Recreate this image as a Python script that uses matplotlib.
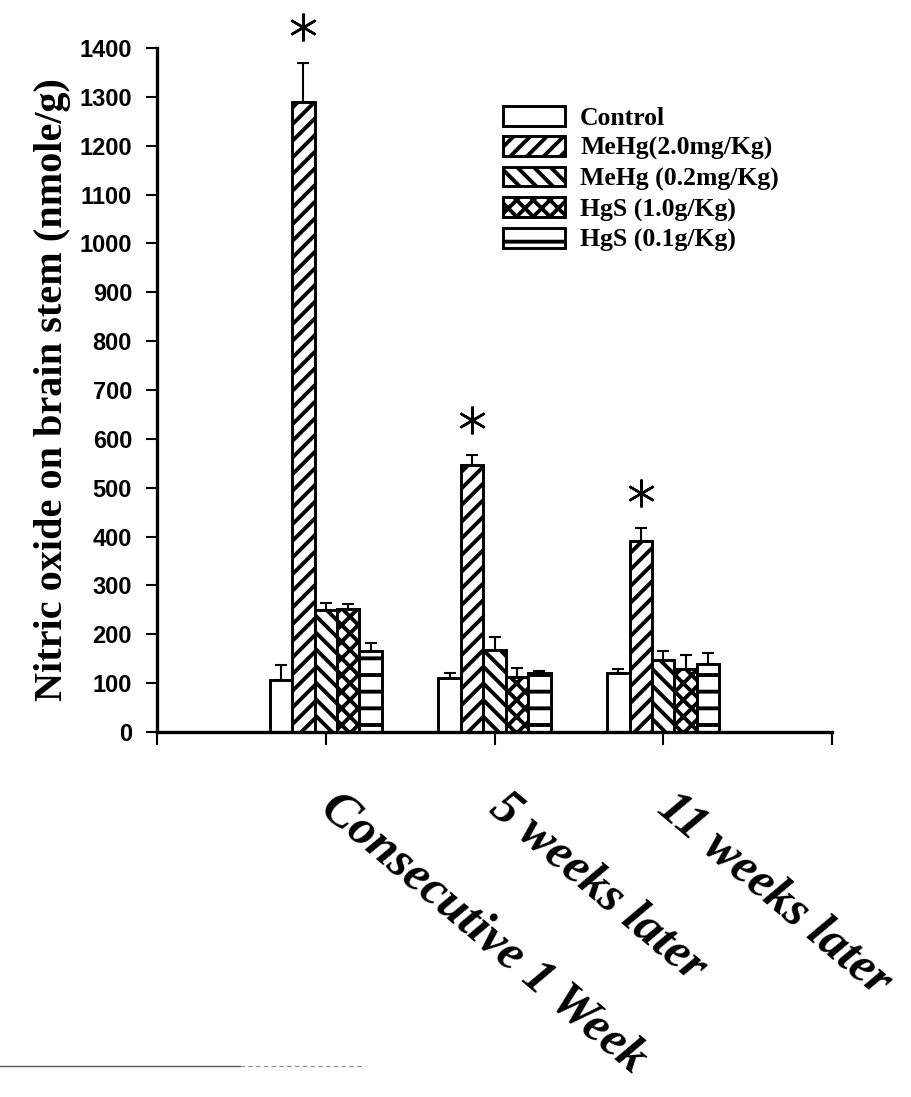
import matplotlib
matplotlib.use('Agg')
import matplotlib.pyplot as plt
import numpy as np
from matplotlib.lines import Line2D

plt.rcParams['hatch.linewidth'] = 2.8
plt.rcParams['font.family'] = 'Liberation Sans'

# nitric oxide in brain stem (nmole/g), mean and upper error per time point
groups = ['Consecutive 1 Week', '5 weeks later', '11 weeks later']
series = ['Control', 'MeHg(2.0mg/Kg)', 'MeHg (0.2mg/Kg)', 'HgS (1.0g/Kg)', 'HgS (0.1g/Kg)']
control = [106, 110, 120]
control_err = [31, 10, 9]
mehg_high = [1290, 546, 390]
mehg_high_err = [80, 20, 27]
mehg_low = [250, 168, 147]
mehg_low_err = [14, 26, 19]
hgs_high = [252, 112, 129]
hgs_high_err = [10, 19, 28]
hgs_low = [166, 121, 139]
hgs_low_err = [16, 4, 22]
significant = [True, True, True]   # MeHg 2.0 vs control

hatches = ['', '//', '\\\\', 'xx', '-']

fig = plt.figure(figsize=(9.11, 10.97), dpi=100)
ax = fig.add_axes([157 / 911, 1 - 732 / 1097, 675 / 911, 684 / 1097])

pos = np.arange(1, len(groups) + 1)
w = 0.133
means = [control, mehg_high, mehg_low, hgs_high, hgs_low]
errs = [control_err, mehg_high_err, mehg_low_err, hgs_high_err, hgs_low_err]

handles = []
for i, (m, e, h, name) in enumerate(zip(means, errs, hatches, series)):
    x = pos + (i - 2) * w
    b = ax.bar(x, m, width=w, color='white', edgecolor='black', linewidth=2.1,
               hatch=h, label=name, zorder=2)
    handles.append(b)
    ax.errorbar(x, m, yerr=[np.zeros(len(m)), e], fmt='none', ecolor='black',
                elinewidth=1.5, capsize=4, capthick=1.5, zorder=1)

# asterisks over the MeHg 2.0 bars
for k, sig in enumerate(significant):
    if sig:
        top = mehg_high[k] + mehg_high_err[k]
        ax.plot(pos[k] - w, top + 72, marker=(6, 2, 0), ms=20, mew=1.8,
                color='black', clip_on=False)

ax.set_xlim(0, 4)
ax.set_ylim(0, 1400)
ax.set_yticks(np.arange(0, 1401, 100))
ax.set_xticks([0, 1, 2, 3, 4])
ax.set_xticklabels([])
for lab in ax.get_yticklabels():
    lab.set_fontweight('bold')
ax.tick_params(axis='y', direction='out', length=8, width=1.5, labelsize=17, pad=10)
ax.tick_params(axis='x', direction='out', length=9, width=1.5)

for s in ['top', 'right']:
    ax.spines[s].set_visible(False)
ax.spines['left'].set_linewidth(2.4)
ax.spines['bottom'].set_linewidth(2.4)

ax.set_ylabel('Nitric oxide on brain stem (nmole/g)', family='Liberation Serif',
              fontweight='bold', fontsize=29, labelpad=6)

for k, g in enumerate(groups):
    ax.annotate(g, xy=(pos[k], 0), xycoords='data', xytext=(11, -38),
                textcoords='offset points', rotation=-40, rotation_mode='anchor',
                ha='left', va='top', fontsize=36, family='Liberation Serif',
                fontweight='bold', style='italic', annotation_clip=False)

leg = ax.legend(handles=handles, loc='upper left', frameon=False,
                bbox_to_anchor=(503 / 911, 1 - 106 / 1097), bbox_transform=fig.transFigure,
                borderpad=0, borderaxespad=0, handlelength=2.4, handleheight=0.8,
                handletextpad=0.6, labelspacing=0.25,
                prop={'family': 'Liberation Serif', 'weight': 'bold', 'size': 18.5})

# faint rule near the bottom edge of the page
fig.add_artist(Line2D([0, 240 / 911], [1 - 1066 / 1097] * 2, color='#555555', lw=1.0))
fig.add_artist(Line2D([240 / 911, 365 / 911], [1 - 1066 / 1097] * 2, color='#888888',
                      lw=0.8, ls=(0, (4, 3))))

fig.savefig('out.png', dpi=100)
